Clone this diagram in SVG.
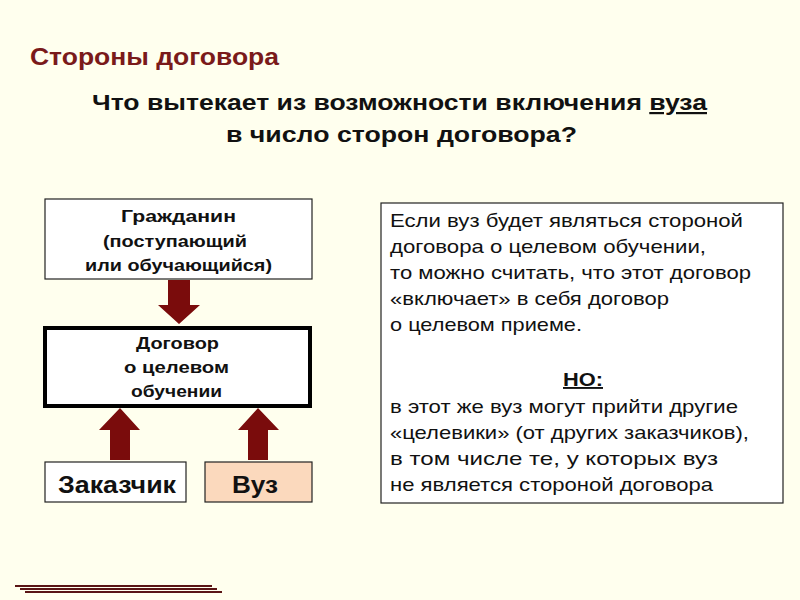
<svg xmlns="http://www.w3.org/2000/svg" width="800" height="600" viewBox="0 0 800 600">
<style>
text{font-family:"Liberation Sans",Arial,sans-serif;fill:#111}
.b{font-weight:bold}
.box{fill:#fff;stroke:#222;stroke-width:1.2}
.arr{fill:#7a0c0c}
</style>
<rect width="800" height="600" fill="#ffffee"/>
<text x="30" y="65" class="b" font-size="23" textLength="249" lengthAdjust="spacingAndGlyphs" style="fill:#7a1a1a">Стороны договора</text>
<text x="92" y="110" class="b" font-size="22" textLength="615" lengthAdjust="spacingAndGlyphs">Что вытекает из возможности включения <tspan text-decoration="underline">вуза</tspan></text>
<text x="226" y="142" class="b" font-size="22" textLength="351" lengthAdjust="spacingAndGlyphs">в число сторон договора?</text>
<g id="citizen"><rect class="box" x="45" y="199" width="267" height="80"/>
<g class="b" font-size="17">
<text x="121" y="222" textLength="115" lengthAdjust="spacingAndGlyphs">Гражданин</text>
<text x="103" y="247" textLength="144" lengthAdjust="spacingAndGlyphs">(поступающий</text>
<text x="85" y="271" textLength="187" lengthAdjust="spacingAndGlyphs">или обучающийся)</text></g></g>
<g id="contract"><rect x="45" y="328" width="265" height="78" fill="#fff" stroke="#000" stroke-width="4"/>
<g class="b" font-size="17">
<text x="136" y="349" textLength="83" lengthAdjust="spacingAndGlyphs">Договор</text>
<text x="124" y="373" textLength="105" lengthAdjust="spacingAndGlyphs">о целевом</text>
<text x="131" y="397" textLength="91" lengthAdjust="spacingAndGlyphs">обучении</text></g></g>
<g id="customer"><rect class="box" x="45" y="462" width="141" height="40"/>
<text x="58" y="493" class="b" font-size="24" textLength="118" lengthAdjust="spacingAndGlyphs">Заказчик</text></g>
<g id="vuz"><rect class="box" x="205" y="462" width="107" height="40" style="fill:#fbd9bd"/>
<text x="232" y="493" class="b" font-size="24" textLength="46" lengthAdjust="spacingAndGlyphs">Вуз</text></g>
<g id="connectors">
<polygon class="arr" points="168,280 190,280 190,305 200,305 179,324 158,305 168,305"/>
<polygon class="arr" points="110,460 130,460 130,430 140,430 120,408 99,430 110,430"/>
<polygon class="arr" points="248,460 268,460 268,430 279,430 258,408 238,430 248,430"/>
</g>
<g id="note"><rect class="box" x="381" y="203" width="402" height="300"/>
<g font-size="19">
<text x="390" y="227" textLength="353" lengthAdjust="spacingAndGlyphs">Если вуз будет являться стороной</text>
<text x="390" y="253" textLength="316" lengthAdjust="spacingAndGlyphs">договора о целевом обучении,</text>
<text x="390" y="279" textLength="361" lengthAdjust="spacingAndGlyphs">то можно считать, что этот договор</text>
<text x="390" y="305" textLength="279" lengthAdjust="spacingAndGlyphs">«включает» в себя договор</text>
<text x="390" y="331" textLength="192" lengthAdjust="spacingAndGlyphs">о целевом приеме.</text>
<text x="390" y="413" textLength="348" lengthAdjust="spacingAndGlyphs">в этот же вуз могут прийти другие</text>
<text x="390" y="439" textLength="359" lengthAdjust="spacingAndGlyphs">«целевики» (от других заказчиков),</text>
<text x="390" y="465" textLength="328" lengthAdjust="spacingAndGlyphs">в том числе те, у которых вуз</text>
<text x="390" y="491" textLength="323" lengthAdjust="spacingAndGlyphs">не является стороной договора</text>
</g>
<text x="563" y="386" class="b" font-size="19" textLength="40" lengthAdjust="spacingAndGlyphs" text-decoration="underline">НО:</text></g>
<g stroke="#5a1515" stroke-width="2"><line x1="15" y1="586" x2="212" y2="586"/><line x1="20" y1="589" x2="217" y2="589"/><line x1="25" y1="592" x2="222" y2="592"/></g>
</svg>
